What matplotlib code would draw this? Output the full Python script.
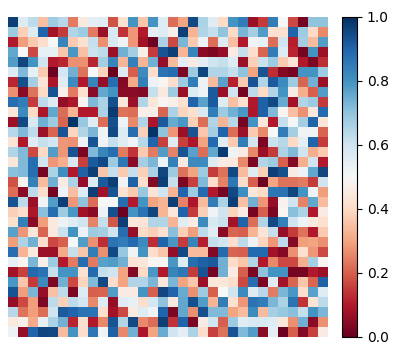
import matplotlib
matplotlib.use("Agg")
import matplotlib.pyplot as plt
import numpy as np

values = [
 [.97,.57,.63,.35,.68,.64,.24,.45,.55,.56,.18,.42,.80,.36,.80,.57, .22,.30,.95,.66,.56,.40,.80,.85,.07,.15,.85,.50,.17,.02,.70,.70],
 [.68,.38,.57,.90,.08,.15,.65,.68,.24,.07,.58,.14,.28,.10,.55,.56, .47,.97,.33,.65,.62,.70,.40,.73,.67,.78,.42,.42,.90,.68,.40,.26],
 [.10,.29,.37,.41,.50,.83,.37,.42,.62,.27,.58,.52,.28,.08,.01,.66, .17,.73,.37,.53,.22,.57,.35,.10,.52,.54,.22,.60,.11,.67,.34,.78],
 [.76,.50,.17,.54,.54,.36,.79,.35,.61,.63,.07,.74,.67,.47,.15,.93, .97,.33,.83,.05,.03,.06,.46,.62,.41,.21,.85,.57,.12,.02,.80,.07],
 [.78,.96,.80,.60,.10,.12,.27,.27,.12,.67,.83,.33,.84,.33,.74,.06, .34,.55,.46,.55,.60,.62,.57,.07,.38,.61,.68,.37,.43,.10,.03,.13],
 [.57,.72,.54,.37,.01,.59,.74,.23,.50,.39,.01,.56,.20,.82,.41,.87, .88,.03,.68,.96,.65,.65,.62,.70,.30,.93,.13,.04,.02,.80,.80,.68],
 [.12,.94,.67,.43,.09,.56,.82,.10,.83,.06,.88,.04,.31,.84,.53,.49, .41,.68,.85,.53,.34,.77,.11,.37,.93,.65,.92,.82,.68,.21,.74,.07],
 [.27,.05,.23,.40,.93,.47,.24,.42,.05,.76,.80,.05,.05,.04,.62,.45, .68,.07,.57,.53,.92,.07,.60,.02,.63,.40,.65,.80,.46,.32,.20,.78],
 [.88,.85,.15,.63,.57,.06,.09,.49,.72,.66,.94,.44,.07,.65,.44,.49, .47,.42,.90,.77,.92,.57,.35,.42,.10,.91,.95,.75,.08,.65,.68,.15],
 [.44,.82,.40,.09,.76,.22,.33,.10,.10,.66,.98,.23,.22,.47,.47,.21, .66,.39,.42,.58,.85,.68,.74,.79,.09,.91,.72,.49,.35,.27,.44,.89],
 [.07,.95,.58,.74,.68,.21,.99,.69,.56,.22,.94,.53,.26,.65,.09,.92, .75,.79,.38,.22,.65,.33,.64,.02,.80,.44,.10,.62,.51,.67,.90,.44],
 [.64,.72,.63,.07,.21,.93,.39,.65,.73,.52,.95,.57,.88,.38,.99,.70, .28,.07,.93,.36,.67,.90,.22,.07,.37,.26,.50,.85,.67,.52,.52,.21],
 [.43,.10,.56,.62,.59,.28,.27,.53,.93,.52,.62,.56,.52,.64,.90,.16, .56,.16,.09,.30,.89,.56,.37,.85,.59,.03,.61,.64,.40,.55,.90,.15],
 [.65,.72,.17,.40,.78,.28,.93,.03,.72,.83,.88,.24,.14,.37,.24,.78, .25,.93,.77,.22,.76,.98,.52,.46,.26,.07,.15,.66,.72,.60,.32,.37],
 [.44,.72,.88,.60,.28,.32,.58,.16,.92,.95,.68,.86,.05,.67,.73,.53, .84,.45,.82,.82,.57,.46,.45,.26,.03,.65,.68,.20,.04,.32,.60,.10],
 [.71,.72,.88,.02,.66,.81,.10,.91,.97,.36,.62,.37,.62,.38,.66,.96, .68,.23,.30,.68,.15,.23,.95,.34,.56,.38,.97,.94,.46,.53,.76,.96],
 [.18,.48,.84,.34,.74,.46,.66,.06,.57,.92,.97,.52,.91,.41,.04,.97, .62,.03,.16,.72,.41,.25,.86,.41,.20,.01,.30,.23,.23,.24,.15,.60],
 [.22,.05,.63,.41,.02,.53,.35,.56,.97,.08,.93,.42,.37,.69,.43,.60, .33,.90,.68,.89,.10,.02,.95,.81,.44,.40,.86,.87,.96,.80,.53,.29],
 [.93,.63,.07,.52,.78,.97,.28,.70,.22,.50,.50,.88,.10,.80,.30,.33, .97,.25,.09,.34,.85,.66,.97,.35,.74,.28,.06,.48,.60,.25,.76,.34],
 [.38,.41,.09,.71,.88,.68,.79,.08,.05,.53,.94,.01,.80,.87,.96,.33, .44,.90,.15,.38,.52,.60,.39,.46,.02,.20,.03,.49,.71,.66,.10,.46],
 [.42,.84,.05,.29,.45,.53,.56,.60,.25,.62,.19,.97,.44,.43,.65,.65, .33,.56,.46,.82,.58,.61,.08,.90,.22,.65,.95,.84,.60,.53,.45,.42],
 [.77,.28,.44,.21,.45,.61,.80,.53,.68,.67,.60,.88,.06,.40,.38,.42, .71,.38,.29,.63,.56,.05,.21,.20,.33,.43,.62,.06,.15,.23,.10,.37],
 [.29,.66,.74,.41,.17,.20,.50,.78,.27,.13,.87,.85,.89,.82,.13,.90, .79,.15,.83,.11,.62,.60,.41,.63,.53,.39,.28,.63,.04,.29,.30,.27],
 [.88,.33,.45,.07,.07,.31,.62,.36,.85,.27,.95,.69,.52,.80,.41,.36, .06,.95,.34,.34,.04,.89,.21,.20,.89,.89,.08,.04,.27,.42,.28,.17],
 [.54,.49,.73,.47,.68,.10,.24,.88,.24,.77,.78,.74,.43,.44,.49,.49, .79,.57,.88,.91,.92,.74,.40,.36,.65,.10,.26,.17,.17,.32,.67,.49],
 [.08,.16,.89,.87,.62,.80,.80,.42,.89,.62,.60,.30,.04,.40,.79,.10, .83,.86,.15,.93,.02,.74,.46,.20,.03,.70,.80,.80,.02,.02,.10,.07],
 [.79,.36,.15,.82,.03,.74,.17,.39,.72,.95,.41,.30,.65,.65,.73,.44, .73,.30,.36,.07,.44,.44,.41,.17,.88,.03,.56,.08,.21,.36,.21,.91],
 [.93,.29,.73,.06,.35,.63,.03,.57,.20,.21,.78,.46,.46,.80,.20,.96, .90,.75,.27,.68,.20,.50,.60,.82,.57,.64,.24,.73,.79,.41,.77,.56],
 [.06,.17,.29,.03,.63,.38,.63,.59,.26,.57,.06,.56,.54,.41,.59,.70, .45,.76,.94,.78,.33,.85,.42,.28,.87,.85,.73,.66,.87,.14,.43,.63],
 [.64,.23,.29,.22,.60,.92,.90,.87,.87,.41,.08,.17,.45,.56,.52,.90, .03,.76,.27,.94,.72,.72,.30,.34,.82,.34,.67,.69,.71,.62,.80,.73],
 [.45,.47,.31,.54,.66,.74,.12,.42,.10,.26,.93,.65,.95,.26,.22,.97, .14,.90,.03,.46,.60,.20,.68,.56,.58,.58,.56,.44,.27,.74,.05,.27],
 [.53,.06,.90,.96,.95,.34,.80,.41,.86,.52,.91,.26,.74,.09,.30,.75, .60,.55,.66,.41,.16,.23,.93,.72,.78,.05,.55,.01,.20,.04,.16,.46],
]
cbar_ticks = [0.0, 0.2, 0.4, 0.6, 0.8, 1.0]

W, H = 398, 353
fig = plt.figure(figsize=(W / 100, H / 100), dpi=100)
ax = fig.add_axes([8 / W, 1 - 337 / H, 320 / W, 320 / H])
mesh = ax.pcolormesh(np.array(values), cmap="RdBu", vmin=0, vmax=1, rasterized=True)
ax.invert_yaxis()
ax.set_axis_off()

cax = fig.add_axes([342 / W, 1 - 337 / H, 15 / W, 320 / H])
cb = fig.colorbar(mesh, cax=cax, ticks=cbar_ticks)
cb.ax.tick_params(labelsize=10)

fig.savefig("out.png", dpi=100)
